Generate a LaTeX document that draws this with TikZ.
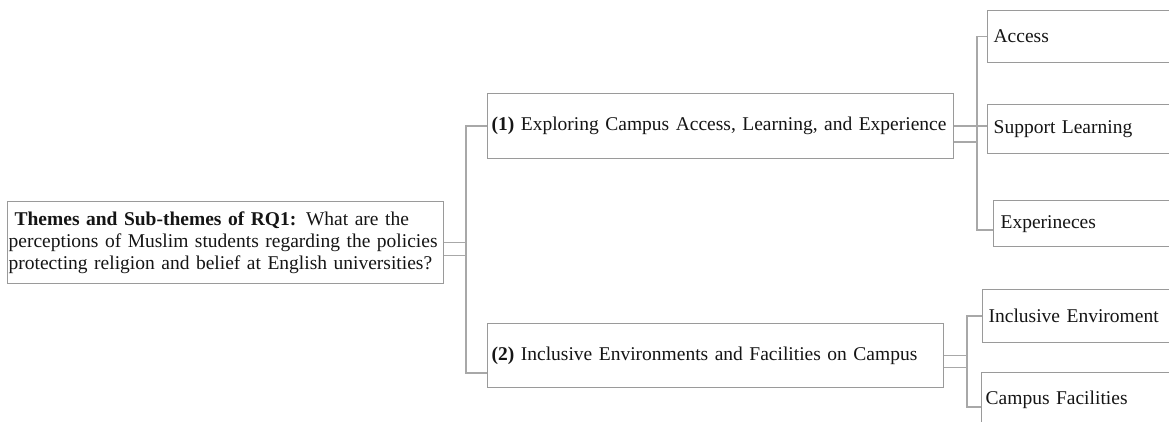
\documentclass[tikz,border=0pt]{standalone}
\usepackage{fontspec}
\setmainfont{Liberation Serif}
\definecolor{boxline}{HTML}{9A9A9A}
\definecolor{linkline}{HTML}{A8A8A8}
\definecolor{ink}{HTML}{151515}
\begin{document}
\begin{tikzpicture}[x=1pt,y=-1pt,
  box/.style={draw=boxline, line width=1.3pt, fill=white, anchor=north west,
    align=left, inner ysep=0pt, text=ink,
    font=\fontsize{19.5}{21.8}\selectfont},
  conn/.style={draw=linkline, line width=1.5pt}]
\clip (0,0) rectangle (1169,422);
\fill[white] (0,0) rectangle (1169,422);

% root question
\node[box, minimum height=82pt, text width=434pt, inner xsep=1pt] (root) at (7,201)
  {\hspace*{6pt}\textbf{Themes and Sub-themes of RQ1:} What are the\\
   perceptions of Muslim students regarding the policies\\
   protecting religion and belief at English universities?};

% themes
\node[box, minimum height=65pt, text width=458pt, inner xsep=4pt] (t1) at (487,93)
  {\textbf{(1)} Exploring Campus Access, Learning, and Experience};
\node[box, minimum height=64pt, text width=448pt, inner xsep=4pt] (t2) at (487,323)
  {\textbf{(2)} Inclusive Environments and Facilities on Campus};

% sub-themes of theme 1
\node[box, minimum height=52pt, text width=200pt, inner xsep=6pt] (access) at (987,10) {Access};
\node[box, minimum height=49pt, text width=200pt, inner xsep=6pt] (support) at (987,104) {Support Learning};
\node[box, minimum height=46pt, text width=194pt, inner xsep=7pt] (exper) at (993,200) {Experineces};

% sub-themes of theme 2
\node[box, minimum height=53pt, text width=205pt, inner xsep=6pt] (incl) at (982,289) {Inclusive Enviroment};
\node[box, minimum height=54pt, text width=208pt, inner xsep=4pt] (campus) at (981,372) {Campus Facilities};

% junction points of the connector buses
\coordinate (j0) at (466,373);
\coordinate (j1) at (977,230);
\coordinate (j2) at (967,407);

% root to themes
\draw[conn] (root.east) -- (root.east -| j0);
\draw[conn] ([yshift=-13pt]root.east) -- ([yshift=-13pt]root.east -| j0);
\draw[conn] (t1.west) -| (j0) -- (t2.west |- j0);

% theme 1 to its sub-themes
\draw[conn] (access.west) -| (j1) -- (exper.west |- j1);
\draw[conn] (t1.east) -- (support.west |- t1.east);
\draw[conn] ([yshift=-16pt]t1.east) -- ([yshift=-16pt]t1.east -| j1);

% theme 2 to its sub-themes
\draw[conn] (incl.west) -| (j2) -- (campus.west |- j2);
\draw[conn] (t2.east) -- (t2.east -| j2);
\draw[conn] ([yshift=-12pt]t2.east) -- ([yshift=-12pt]t2.east -| j2);
\end{tikzpicture}
\end{document}
